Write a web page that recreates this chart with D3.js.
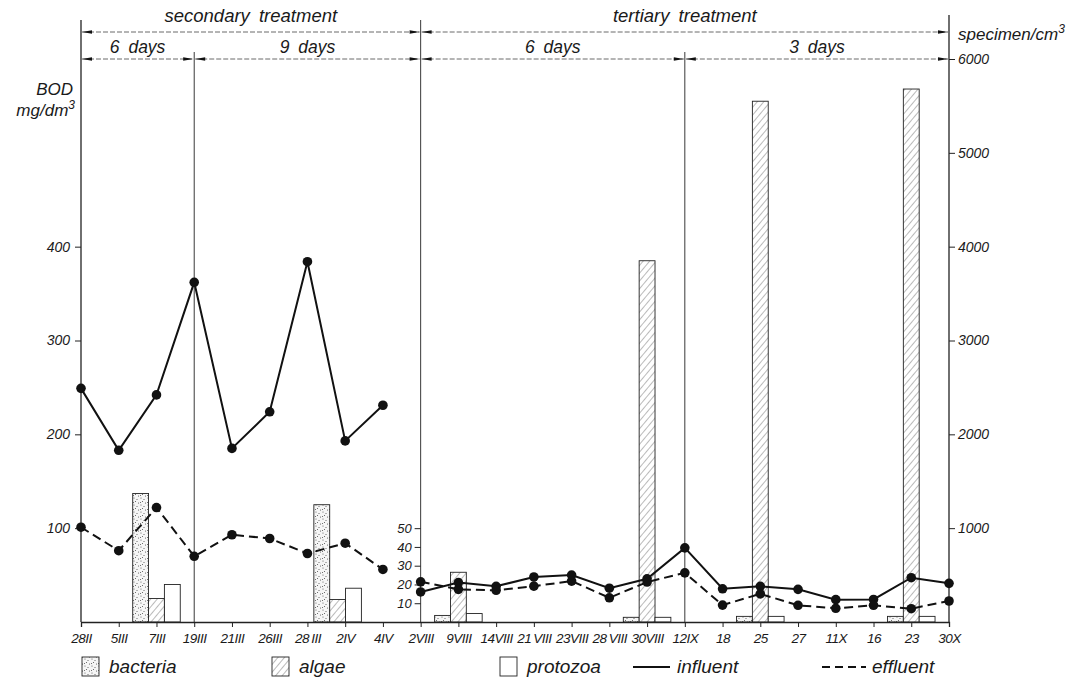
<!DOCTYPE html>
<html>
<head>
<meta charset="utf-8">
<script src="https://cdn.jsdelivr.net/npm/d3@7"></script>
<style>
  body { margin: 0; background: #fff; }
  svg text { font-family: "Liberation Sans", "DejaVu Sans", sans-serif; font-style: italic; fill: #1a1a1a; }
</style>
</head>
<body>
<div id="chart"></div>
<script>
// sampling dates (roman numerals = month)
var dates = ["28II", "5III", "7III", "19III", "21III", "26III", "28\u2009III", "2IV", "4IV",
  "2VIII", "9VIII", "14VIII", "21\u2009VIII", "23VIII", "28\u2009VIII", "30VIII", "12IX",
  "18", "25", "27", "11X", "16", "23", "30X"]

// BOD mg/dm3, secondary treatment (dates 0..8)
var secInfluent = [249, 183, 242, 362, 185, 224, 384, 193, 231]
var secEffluent = [101, 76, 122, 70, 93, 89, 73, 84, 56]

// BOD mg/dm3, tertiary treatment (dates 9..23)
var terInfluent = [16, 21, 19, 24, 25, 18, 23, 39.5, 17.7, 19, 17.4, 11.9, 12, 23.6, 20.6]
var terEffluent = [21.4, 17.4, 16.9, 19.1, 21.8, 12.9, 21.3, 26.2, 9, 15, 8.9, 7.3, 8.9, 7.1, 11.2]

// organisms, specimen/cm3, at date index
var barAt = [2, 6.8, 10, 15, 18, 22]
var bacteria = [1370, 1250, 70, 50, 60, 60]
var algae = [250, 240, 530, 3850, 5550, 5680]
var protozoa = [400, 360, 90, 50, 60, 60]

var leftTicks = [100, 200, 300, 400]
var rightTicks = [1000, 2000, 3000, 4000, 5000, 6000]
var terTicks = [10, 20, 30, 40, 50]

// periods: [from index, to index, label]
var phases = [[0, 9, "secondary treatment"], [9, 23, "tertiary treatment"]]
var periods = [[0, 3, "6 days"], [3, 9, "9 days"], [9, 16, "6 days"], [16, 23, "3 days"]]

;(function () {
  var W = 1092, H = 681
  var base = 622, plotTop = 59

  var svg = d3.select("#chart").append("svg")
    .attr("width", W).attr("height", H)

  var x = d3.scaleLinear().domain([0, dates.length - 1]).range([81, 949])
  var yLeft = d3.scaleLinear().domain([0, 600]).range([base, plotTop])
  var yRight = d3.scaleLinear().domain([0, 6000]).range([base, plotTop])
  var yTer = d3.scaleLinear().domain([0, 50]).range([base, yLeft(100)])

  var step = x(1) - x(0)
  var bw = step * 0.42

  // patterns
  var defs = svg.append("defs")
  var dots = defs.append("pattern").attr("id", "dots")
    .attr("patternUnits", "userSpaceOnUse").attr("width", 7).attr("height", 7)
  dots.append("rect").attr("width", 7).attr("height", 7).attr("fill", "#f6f6f6")
  ;[[1, 1], [4, 2.5], [2.5, 4.5], [5.5, 6], [0.5, 5.5]].forEach(function (p) {
    dots.append("circle").attr("cx", p[0]).attr("cy", p[1]).attr("r", 0.55).attr("fill", "#555")
  })
  var hatch = defs.append("pattern").attr("id", "hatch")
    .attr("patternUnits", "userSpaceOnUse").attr("width", 5).attr("height", 5)
    .attr("patternTransform", "rotate(40)")
  hatch.append("rect").attr("width", 5).attr("height", 5).attr("fill", "#fff")
  hatch.append("line").attr("x1", 0).attr("y1", 0).attr("x2", 0).attr("y2", 5)
    .attr("stroke", "#666").attr("stroke-width", 0.9)

  defs.append("marker").attr("id", "arr").attr("viewBox", "0 0 10 6")
    .attr("refX", 10).attr("refY", 3).attr("markerWidth", 12).attr("markerHeight", 6)
    .attr("markerUnits", "userSpaceOnUse").attr("orient", "auto-start-reverse")
    .append("path").attr("d", "M0,1.2 L10,3 L0,4.8 Z").attr("fill", "#111")

  // bars
  var groups = [
    { key: "bacteria", vals: bacteria, fill: "url(#dots)", off: -1 },
    { key: "algae", vals: algae, fill: "url(#hatch)", off: 0 },
    { key: "protozoa", vals: protozoa, fill: "#fff", off: 1 }
  ]
  groups.forEach(function (g) {
    svg.append("g").selectAll("rect").data(g.vals).enter().append("rect")
      .attr("x", function (d, i) { return x(barAt[i]) + g.off * bw - bw / 2 })
      .attr("y", function (d) { return yRight(d) })
      .attr("width", bw)
      .attr("height", function (d) { return base - yRight(d) })
      .attr("fill", g.fill)
      .attr("stroke", "#222").attr("stroke-width", 0.9)
  })

  // vertical separators
  var seps = [[0, 20], [3, 52], [9, 20], [16, 52], [23, 15]]
  svg.append("g").selectAll("line").data(seps).enter().append("line")
    .attr("x1", function (d) { return x(d[0]) }).attr("x2", function (d) { return x(d[0]) })
    .attr("y1", function (d) { return d[1] }).attr("y2", base)
    .attr("stroke", "#222").attr("stroke-width", function (d, i) { return (i == 0 || i == 4) ? 1.3 : 0.9 })

  // header arrows
  function arrowRow(data, y, fs, ty) {
    var g = svg.append("g")
    g.selectAll("line").data(data).enter().append("line")
      .attr("x1", function (d) { return x(d[0]) + 1 }).attr("x2", function (d) { return x(d[1]) - 1 })
      .attr("y1", y).attr("y2", y)
      .attr("stroke", "#444").attr("stroke-width", 0.8).attr("stroke-dasharray", "5,2")
      .attr("marker-start", "url(#arr)").attr("marker-end", "url(#arr)")
    g.selectAll("text").data(data).enter().append("text")
      .attr("x", function (d) { return (x(d[0]) + x(d[1])) / 2 }).attr("y", ty)
      .attr("text-anchor", "middle").attr("font-size", fs).attr("word-spacing", 4)
      .text(function (d) { return d[2] })
  }
  arrowRow(phases, 32, 18.5, 22)
  arrowRow(periods, yRight(6000), 17.5, 53)

  // x axis
  svg.append("g").attr("transform", "translate(0," + base + ")")
    .call(d3.axisBottom(x).tickValues(d3.range(dates.length)).tickFormat(function (i) { return dates[i] })
      .tickSize(5).tickPadding(6))
    .call(function (g) {
      g.select(".domain").attr("stroke", "#222").attr("stroke-width", 1.3)
      g.selectAll(".tick line").attr("stroke", "#222")
      g.selectAll("text").attr("font-size", 13.5).attr("font-family", null)
        .attr("letter-spacing", -0.5)
    })

  // left axis (BOD secondary)
  svg.append("g").attr("transform", "translate(" + x(0) + ",0)")
    .call(d3.axisLeft(yLeft).tickValues(leftTicks).tickSize(6).tickPadding(5))
    .call(function (g) {
      g.select(".domain").remove()
      g.selectAll(".tick line").attr("stroke", "#222")
      g.selectAll("text").attr("font-size", 14).attr("font-family", null)
    })

  // tertiary BOD axis
  svg.append("g").attr("transform", "translate(" + x(9) + ",0)")
    .call(d3.axisLeft(yTer).tickValues(terTicks).tickSize(6).tickPadding(3))
    .call(function (g) {
      g.select(".domain").remove()
      g.selectAll(".tick line").attr("stroke", "#222")
      g.selectAll("text").attr("font-size", 13).attr("font-family", null)
    })

  // right axis (specimen/cm3)
  svg.append("g").attr("transform", "translate(" + x(23) + ",0)")
    .call(d3.axisRight(yRight).tickValues(rightTicks).tickFormat(d3.format("d")).tickSize(6).tickPadding(3))
    .call(function (g) {
      g.select(".domain").remove()
      g.selectAll(".tick line").attr("stroke", "#222")
      g.selectAll("text").attr("font-size", 14).attr("font-family", null)
    })

  // axis titles
  svg.append("text").attr("x", 73).attr("y", 95).attr("text-anchor", "end").attr("font-size", 17).text("BOD")
  var unit = svg.append("text").attr("x", 75).attr("y", 116).attr("text-anchor", "end").attr("font-size", 17)
  unit.append("tspan").text("mg/dm")
  unit.append("tspan").attr("dy", -7).attr("font-size", 12).text("3")
  var spec = svg.append("text").attr("x", 958).attr("y", 40).attr("font-size", 17)
  spec.append("tspan").text("specimen/cm")
  spec.append("tspan").attr("dy", -7).attr("font-size", 12).text("3")

  // BOD lines
  function series(vals, i0, y, dashed) {
    var pts = vals.map(function (v, i) { return [x(i0 + i), y(v)] })
    svg.append("path").datum(pts)
      .attr("d", d3.line())
      .attr("fill", "none").attr("stroke", "#111").attr("stroke-width", 2)
      .attr("stroke-dasharray", dashed ? "9,5" : null)
    svg.append("g").selectAll("circle").data(pts).enter().append("circle")
      .attr("cx", function (d) { return d[0] }).attr("cy", function (d) { return d[1] })
      .attr("r", 4.8).attr("fill", "#111")
  }
  series(secInfluent, 0, yLeft, false)
  series(secEffluent, 0, yLeft, true)
  series(terInfluent, 9, yTer, false)
  series(terEffluent, 9, yTer, true)

  // legend
  var ly = 673
  var leg = svg.append("g")
  var swatches = [[82, "url(#dots)", "bacteria"], [272, "url(#hatch)", "algae"], [500, "#fff", "protozoa"]]
  swatches.forEach(function (s) {
    leg.append("rect").attr("x", s[0]).attr("y", ly - 16).attr("width", 17).attr("height", 19)
      .attr("fill", s[1]).attr("stroke", "#222").attr("stroke-width", 0.9)
    leg.append("text").attr("x", s[0] + 27).attr("y", ly).attr("font-size", 19).text(s[2])
  })
  leg.append("line").attr("x1", 633).attr("x2", 670).attr("y1", ly - 6).attr("y2", ly - 6)
    .attr("stroke", "#111").attr("stroke-width", 1.9)
  leg.append("text").attr("x", 677).attr("y", ly).attr("font-size", 19).text("influent")
  leg.append("line").attr("x1", 822).attr("x2", 866).attr("y1", ly - 6).attr("y2", ly - 6)
    .attr("stroke", "#111").attr("stroke-width", 1.9).attr("stroke-dasharray", "8,5")
  leg.append("text").attr("x", 872).attr("y", ly).attr("font-size", 19).text("effluent")
})()
</script>
</body>
</html>
